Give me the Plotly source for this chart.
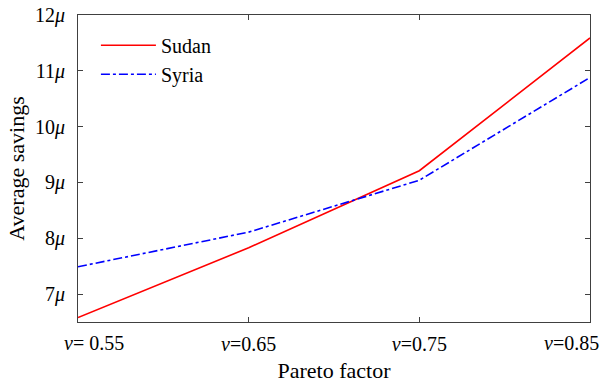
import plotly.graph_objects as go

# Pareto factor values and their tick labels
pareto = [0.55, 0.65, 0.75, 0.85]
pareto_labels = ["<i>ν</i>= 0.55", "<i>ν</i>=0.65", "<i>ν</i>=0.75", "<i>ν</i>=0.85"]

# Average savings (in units of μ)
sudan = [6.58, 7.83, 9.21, 11.59]
syria = [7.49, 8.11, 9.04, 10.88]

y_ticks = [7, 8, 9, 10, 11, 12]
y_labels = [f"{v}<i>μ</i>" for v in y_ticks]

font = "Liberation Serif"
tick_font = dict(family=font, size=20, color="black")
title_font = dict(family=font, size=22, color="black")

fig = go.Figure()
fig.add_trace(go.Scatter(x=pareto, y=sudan, mode="lines", name="Sudan",
                         line=dict(color="#ff0000", width=1.6)))
fig.add_trace(go.Scatter(x=pareto, y=syria, mode="lines", name="Syria",
                         line=dict(color="#0000ff", width=1.6, dash="dashdot")))

axis_common = dict(showgrid=False, zeroline=False, showline=True, linecolor="#404040",
                   linewidth=1, mirror="ticks", ticks="inside", ticklen=5,
                   tickcolor="#404040", tickfont=tick_font, automargin=False)

# interior x labels as ticks; the two edge labels are kept inside the figure
inner_text = ["" if i in (0, len(pareto) - 1) else t for i, t in enumerate(pareto_labels)]
fig.update_xaxes(range=[0.55, 0.85], tickvals=pareto, ticktext=inner_text,
                 ticklabelstandoff=4,
                 title=dict(text="Pareto factor", font=title_font, standoff=12),
                 **axis_common)
fig.update_yaxes(range=[6.5, 12], tickvals=y_ticks, ticktext=y_labels,
                 ticklabelstandoff=8,
                 title=dict(text="Average savings", font=title_font, standoff=4),
                 **axis_common)

fig.add_annotation(x=pareto[0], y=0, xref="x", yref="paper", yanchor="top",
                   xanchor="left", xshift=-16, yshift=-8, showarrow=False,
                   text=pareto_labels[0], font=tick_font)
fig.add_annotation(x=pareto[-1], y=0, xref="x", yref="paper", yanchor="top",
                   xanchor="right", xshift=11, yshift=-8, showarrow=False,
                   text=pareto_labels[-1], font=tick_font)

fig.update_layout(
    width=602, height=383,
    margin=dict(l=78, r=12, t=15, b=61),
    plot_bgcolor="white", paper_bgcolor="white",
    font=dict(family=font, color="black"),
    legend=dict(x=0.035, y=0.965, xanchor="left", yanchor="top",
                bgcolor="rgba(255,255,255,0)", borderwidth=0,
                font=dict(family=font, size=20, color="black"),
                tracegroupgap=0, itemwidth=55),
)

fig.write_html("out.html")
